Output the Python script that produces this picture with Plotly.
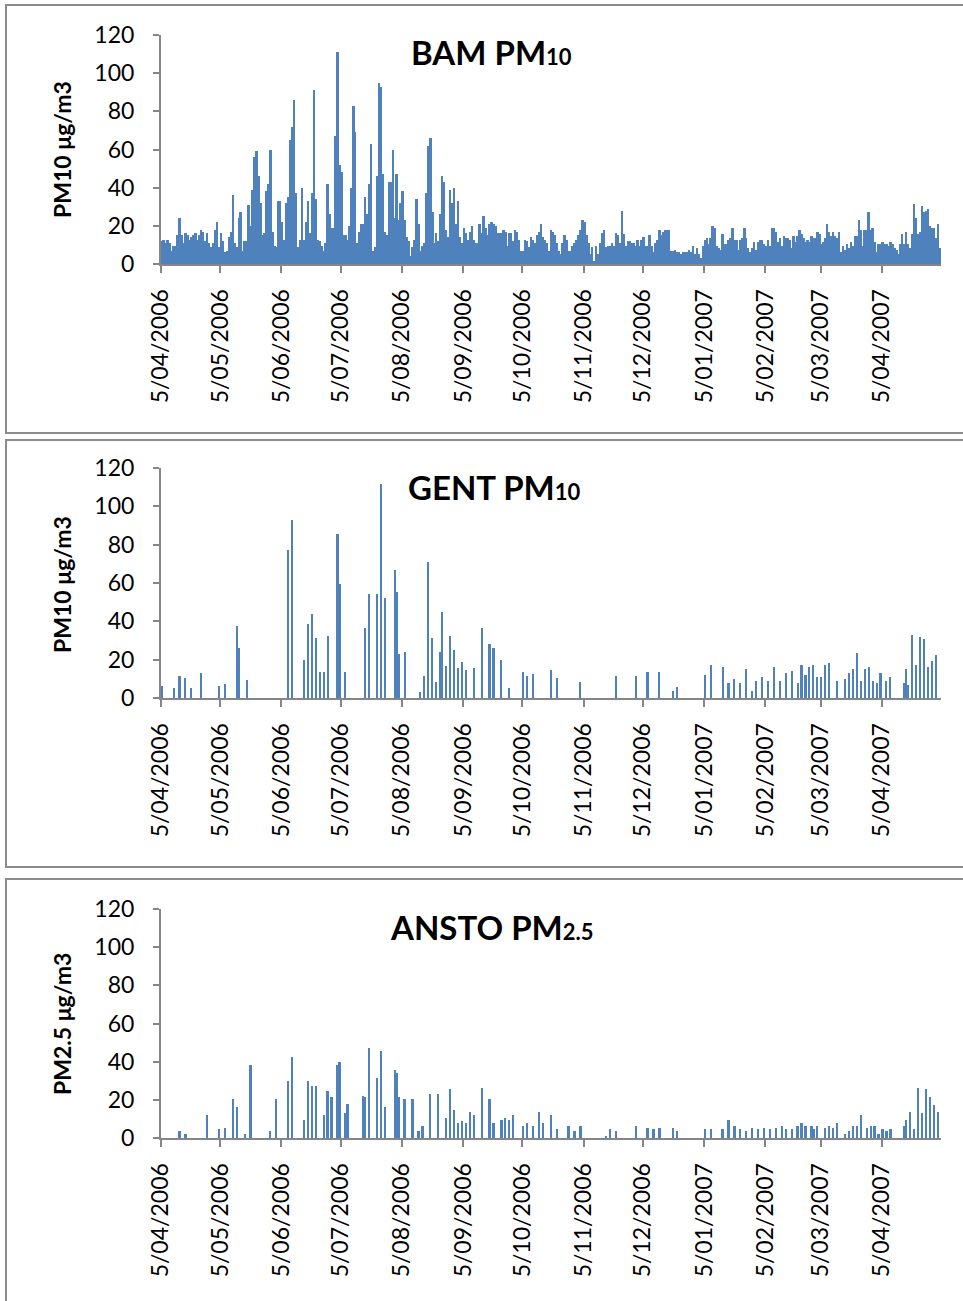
import plotly.graph_objects as go
import pandas as pd

# ---------------- DATA ----------------
tick_dates = ["2006-04-05", "2006-05-05", "2006-06-05", "2006-07-05", "2006-08-05",
              "2006-09-05", "2006-10-05", "2006-11-05", "2006-12-05", "2007-01-05",
              "2007-02-05", "2007-03-05", "2007-04-05"]
tick_labels = ["5/04/2006", "5/05/2006", "5/06/2006", "5/07/2006", "5/08/2006",
               "5/09/2006", "5/10/2006", "5/11/2006", "5/12/2006", "5/01/2007",
               "5/02/2007", "5/03/2007", "5/04/2007"]

# BAM PM10, daily values in three consecutive blocks
bam_start_1 = "2006-04-05"
bam_pm10_1 = [12, 12.6, 11, 12.6, 11, 7, 9.5, 9.5, 15, 24, 15,
              11, 16, 15, 12.6, 14, 15, 16, 12.6, 15, 18,
              17, 12, 16, 11, 9, 11, 18, 22, 9, 16,
              12, 6.5, 7, 14, 17, 36, 11, 9, 24, 27,
              7, 12, 12, 31, 20, 39, 56, 59, 46, 32,
              15, 16, 38, 42, 60, 17, 9.5, 9, 33, 33,
              22, 12.6, 32, 35, 65, 72, 86, 37, 9, 12.6,
              40, 12.6, 22, 33, 16, 37, 91, 34, 12.6, 12,
              9.5, 7, 11, 42, 26, 19, 19, 67, 111, 52,
              48, 15, 15, 12.6, 20, 40, 83, 69, 11, 17, 21,
              21, 35, 26, 42, 63, 7, 9, 46, 95, 93,
              47, 17, 15, 43, 43, 60, 24, 47, 23, 32,
              38, 23, 14, 12, 4, 9, 12.6, 34, 21, 7]
bam_start_2 = "2006-08-15"
bam_pm10_2 = [9.5, 11, 37, 62, 66, 27, 11, 16, 12, 26,
              46, 43, 18, 14, 39, 32, 40, 21, 33, 14,
              11, 19, 16, 12.6, 17, 20, 12.6, 11, 11, 21,
              16, 25, 19, 15, 21, 22, 21, 20, 16, 16,
              16, 18, 17, 9.5, 16, 16, 12, 18, 17, 12.6, 7,
              7, 12.6, 12, 9, 14, 12.6, 11, 15, 17, 21,
              14, 12.6, 11, 7, 18, 17, 15, 11, 7, 5.5,
              11, 15, 12.6, 7, 7, 9.5, 11, 12.6, 15, 18,
              23, 22, 15, 11, 5.5, 9, 1.5, 9.5, 5.5, 11,
              16, 18, 9, 9.5, 9.5, 11, 9.5, 16, 15, 11,
              28, 15.5, 9.5, 12, 12, 11, 11, 9.5, 12.6, 9.5,
              12.6, 14, 9.5, 9.5, 15, 9.5, 6.5, 11, 12.6, 18,
              15, 17, 18, 18, 18]
bam_start_3 = "2006-12-19"
bam_pm10_3 = [6.6, 6.6, 7.3, 6.3, 6.3, 5.2, 6.3, 6.3, 6.3, 7.3,
              6.3, 9.4, 5.2, 8.4, 5.2, 3.1, 9.4, 12.6, 13.8, 10.5,
              13.8, 20, 19, 9.4, 8.4, 7.3, 15.7, 10.5, 10.5, 12.6,
              13.8, 19, 12.6, 12.6, 7.3, 12.6, 13.8, 19, 13.8, 8.4,
              6.3, 8.4, 11.5, 7.3, 11.5, 12.6, 12.6, 10.5, 9.4, 12.6,
              9.4, 19, 19, 16.8, 11.5, 13.8, 9.4, 14.7, 13.8, 13.8,
              12.6, 8.4, 14.7, 11.5, 14.7, 17.8, 15.7, 13.8, 11.5, 12.6,
              11.5, 14.7, 13.8, 13.8, 16.8, 15.7, 10.5, 11.5, 13.8, 21, 16.8,
              14.7, 16.8, 14.7, 13.8, 16.8, 6.3, 9.4, 7.3, 10.5, 8.4,
              11.5, 9.4, 14.7, 14.7, 23, 17.8, 9.4, 17.8, 17.8, 27,
              17.8, 19, 11.5, 6.3, 10.5, 10.5, 11.5, 10.5, 10.5, 9.4,
              11.5, 10.5, 8.4, 7.3, 5.2, 10.5, 15.7, 10.5, 16.8, 10.5,
              8.4, 15.7, 31.6, 24, 15.7, 16.8, 30.5, 27, 28, 29,
              20, 19, 19, 13.8, 21, 8.4]

# GENT PM10 (sampling days)
gent_dates = ["2006-04-05", "2006-04-11", "2006-04-14", "2006-04-17", "2006-04-20", "2006-04-25",
              "2006-05-04", "2006-05-07", "2006-05-13", "2006-05-14", "2006-05-18",
              "2006-06-08", "2006-06-10", "2006-06-16", "2006-06-18", "2006-06-20", "2006-06-22",
              "2006-06-24", "2006-06-26", "2006-06-28", "2006-07-03", "2006-07-04", "2006-07-07",
              "2006-07-17", "2006-07-19", "2006-07-23", "2006-07-25", "2006-07-27",
              "2006-08-01", "2006-08-02", "2006-08-03", "2006-08-06", "2006-08-14", "2006-08-16",
              "2006-08-18", "2006-08-20", "2006-08-22", "2006-08-24", "2006-08-25", "2006-08-27",
              "2006-08-29", "2006-08-31", "2006-09-02", "2006-09-04", "2006-09-06", "2006-09-10",
              "2006-09-14", "2006-09-18", "2006-09-20", "2006-09-24", "2006-09-28",
              "2006-10-05", "2006-10-07", "2006-10-10", "2006-10-19", "2006-10-22",
              "2006-11-03", "2006-11-21", "2006-12-01", "2006-12-07", "2006-12-13",
              "2006-12-20", "2006-12-22", "2007-01-05", "2007-01-08", "2007-01-14", "2007-01-17",
              "2007-01-20", "2007-01-23", "2007-01-26", "2007-01-29", "2007-01-31",
              "2007-02-03", "2007-02-06", "2007-02-09", "2007-02-12", "2007-02-15", "2007-02-18",
              "2007-02-21", "2007-02-23", "2007-02-25", "2007-02-27", "2007-03-01", "2007-03-03",
              "2007-03-05", "2007-03-07", "2007-03-09", "2007-03-13", "2007-03-17", "2007-03-19",
              "2007-03-21", "2007-03-23", "2007-03-25", "2007-03-27", "2007-03-29", "2007-03-31",
              "2007-04-02", "2007-04-04", "2007-04-07", "2007-04-09", "2007-04-16", "2007-04-17",
              "2007-04-18", "2007-04-20", "2007-04-22", "2007-04-24", "2007-04-26", "2007-04-28",
              "2007-04-30", "2007-05-02"]
gent_pm10 = [6.3, 5.4, 11.5, 10.6, 5.4, 12.9,
             6.3, 7.3, 37.6, 26, 9.6,
             77.4, 93, 19.9, 38.8, 44, 31.4,
             13.6, 13.6, 32.4, 85.7, 59.6, 13.6,
             36.6, 54.4, 54.4, 111.8, 52.3,
             66.9, 55.4, 23, 24, 3.1, 11.5,
             71, 31.4, 8.4, 24, 45, 16.7,
             32.4, 25, 15.7, 18.8, 14.6, 15.7,
             36.6, 28.2, 26, 19.9, 5.2,
             13.6, 11.5, 12.5, 14.6, 10.5,
             8.4, 11.5, 11.5, 13.6, 13.4,
             3.8, 5.9, 12.2, 17.4, 16.4, 8,
             10.1, 8, 15.3, 3.8, 9.1,
             11.1, 9.1, 16.4, 9.1, 13.2, 14.3,
             8, 17.4, 12.2, 16.4, 17.4, 11.1,
             11.1, 17.4, 18.5, 9.1, 10.1, 13.2,
             15.3, 23.7, 9.1, 15.3, 16.4, 9.1,
             8, 13.2, 9.1, 11.1, 8, 15.3,
             7, 33.1, 17.4, 32, 31, 16.4,
             19.5, 22.6]

# ANSTO PM2.5 (sampling days)
ansto_dates = ["2006-04-14", "2006-04-17", "2006-04-28", "2006-05-04", "2006-05-07", "2006-05-11",
               "2006-05-13", "2006-05-17", "2006-05-20", "2006-05-30", "2006-06-02", "2006-06-08",
               "2006-06-10", "2006-06-16", "2006-06-18", "2006-06-20", "2006-06-22", "2006-06-26",
               "2006-06-28", "2006-06-30", "2006-07-03", "2006-07-04", "2006-07-07", "2006-07-08",
               "2006-07-16", "2006-07-17", "2006-07-19", "2006-07-23", "2006-07-25", "2006-07-27",
               "2006-08-01", "2006-08-02", "2006-08-03", "2006-08-06", "2006-08-10", "2006-08-13",
               "2006-08-15", "2006-08-19", "2006-08-23", "2006-08-27", "2006-08-29", "2006-08-31",
               "2006-09-02", "2006-09-04", "2006-09-06", "2006-09-08", "2006-09-10", "2006-09-14",
               "2006-09-18", "2006-09-20", "2006-09-24", "2006-09-26", "2006-09-28", "2006-09-30",
               "2006-10-05", "2006-10-07", "2006-10-10", "2006-10-13", "2006-10-15", "2006-10-19",
               "2006-10-22", "2006-10-28", "2006-10-31", "2006-11-03", "2006-11-16", "2006-11-18",
               "2006-11-21", "2006-12-01", "2006-12-07", "2006-12-10", "2006-12-13", "2006-12-20",
               "2006-12-22", "2007-01-05", "2007-01-08", "2007-01-14", "2007-01-17", "2007-01-20",
               "2007-01-23", "2007-01-26", "2007-01-29", "2007-02-01", "2007-02-04", "2007-02-07",
               "2007-02-10", "2007-02-13", "2007-02-15", "2007-02-18", "2007-02-21", "2007-02-23",
               "2007-02-25", "2007-02-28", "2007-03-01", "2007-03-03", "2007-03-07", "2007-03-09",
               "2007-03-11", "2007-03-13", "2007-03-17", "2007-03-19", "2007-03-21", "2007-03-23",
               "2007-03-25", "2007-03-28", "2007-03-30", "2007-04-01", "2007-04-03", "2007-04-05",
               "2007-04-07", "2007-04-09", "2007-04-16", "2007-04-17", "2007-04-19", "2007-04-21",
               "2007-04-23", "2007-04-25", "2007-04-27", "2007-04-29", "2007-05-01", "2007-05-03"]
ansto_pm25 = [3.8, 2.3, 12.2, 4.9, 5.4, 20.6,
              16.4, 2.3, 38.4, 3.8, 20.6, 30,
              42.6, 9.6, 30, 27.4, 27.4, 12.2,
              24.8, 21.6, 38.4, 40, 13.3, 18,
              22.2, 21.6, 47.3, 31.6, 45.7, 16.4,
              35.8, 34.2, 21.6, 20.6, 20.6, 3.8,
              6.5, 23.2, 23.2, 10.6, 25.8, 14.8,
              8, 9.1, 8, 13.8, 12.2, 26.4,
              20.6, 8, 9.6, 10.6, 9.6, 12.2,
              6.5, 8, 6.5, 13.8, 8, 12.2,
              4.9, 6.5, 3.8, 6.5, 1.2, 4.9,
              3.8, 6.5, 5.4, 4.9, 5.4, 5.4,
              3.8, 4.9, 4.9, 4.9, 9.6, 6.5,
              4.9, 3.8, 5.4, 4.9, 5.4, 4.9,
              5.4, 6.5, 4.9, 4.9, 6.5, 8,
              6.5, 6.5, 4.9, 6.5, 5.4, 6.5,
              5.4, 8, 2.3, 3.8, 6.5, 6.5,
              12.2, 5.4, 6.5, 6.5, 2.3, 4.9,
              3.8, 4.9, 6.5, 9.6, 13.8, 4.9,
              26.4, 13.3, 25.8, 21.6, 17.5, 13.8]

# ---------------- FIGURE ----------------
W, H = 963, 1301
DAY_MS = 86400000
BLUE = "#4F81BD"
AXIS_GREY = "#868686"
FONT = "Lato"


def daily(start, vals):
    return list(pd.date_range(start, periods=len(vals), freq="D") + pd.Timedelta(hours=12))


def centred(dates):
    return list(pd.to_datetime(dates) + pd.Timedelta(hours=12))


bam_x = daily(bam_start_1, bam_pm10_1) + daily(bam_start_2, bam_pm10_2) + daily(bam_start_3, bam_pm10_3)
bam_y = bam_pm10_1 + bam_pm10_2 + bam_pm10_3

fig = go.Figure()
fig.add_trace(go.Bar(x=bam_x, y=bam_y, width=DAY_MS * 1.0, marker=dict(color=BLUE, line=dict(width=0)),
                     xaxis="x", yaxis="y"))
fig.add_trace(go.Bar(x=centred(gent_dates), y=gent_pm10, width=DAY_MS * 0.8,
                     marker=dict(color=BLUE, line=dict(width=0)), xaxis="x2", yaxis="y2"))
fig.add_trace(go.Bar(x=centred(ansto_dates), y=ansto_pm25, width=DAY_MS * 0.9,
                     marker=dict(color=BLUE, line=dict(width=0)), xaxis="x3", yaxis="y3"))


def ydom(top_px, bottom_px):
    return [1 - bottom_px / H, 1 - top_px / H]


xdom = [161 / W, 941 / W]
panels = [(35, 264), (468, 698), (909, 1138)]

xcommon = dict(type="date", range=["2006-04-05", "2007-05-05"], domain=xdom, automargin=False,
               tickmode="array", tickvals=tick_dates, ticktext=tick_labels,
               tickangle=-90, ticks="outside", ticklen=7, tickwidth=2, tickcolor=AXIS_GREY,
               showline=True, linecolor=AXIS_GREY, linewidth=2, showgrid=False, zeroline=False,
               tickfont=dict(family=FONT, size=23, color="black"), ticklabelstandoff=7,
               fixedrange=True)
ycommon = dict(range=[0, 120], dtick=20, tick0=0, ticks="outside", ticklen=6, tickwidth=2,
               tickcolor=AXIS_GREY, showline=True, linecolor=AXIS_GREY, linewidth=2,
               showgrid=False, zeroline=False, automargin=False,
               tickfont=dict(family=FONT, size=23, color="black"), ticklabelstandoff=14)

layout = dict(width=W, height=H, margin=dict(l=0, r=0, t=0, b=0, autoexpand=False), showlegend=False,
              paper_bgcolor="white", plot_bgcolor="white", bargap=0)
for i, (t, b) in enumerate(panels):
    sfx = "" if i == 0 else str(i + 1)
    layout["xaxis" + sfx] = dict(xcommon, anchor="y" + sfx)
    layout["yaxis" + sfx] = dict(ycommon, domain=ydom(t, b), anchor="x" + sfx)
fig.update_layout(**layout)

# chart area boxes
boxes = [(6, 5, 433), (6, 440, 867), (6, 879, 1320)]
for x0, t, b in boxes:
    fig.add_shape(type="rect", xref="paper", yref="paper", x0=x0 / W, x1=1.03,
                  y0=1 - b / H, y1=1 - t / H, line=dict(color="#8c8c8c", width=2),
                  fillcolor="rgba(0,0,0,0)", layer="below")

titles = [("BAM PM<span style='font-size:22px'>10</span>", 492, 52),
          ("GENT PM<span style='font-size:22px'>10</span>", 494, 487),
          ("ANSTO PM<span style='font-size:22px'>2.5</span>", 492, 927)]
for txt, xp, yp in titles:
    fig.add_annotation(text="<b>" + txt + "</b>", xref="paper", yref="paper", x=xp / W, y=1 - yp / H,
                       showarrow=False, xanchor="center", yanchor="middle",
                       font=dict(family=FONT, size=33, color="black"))

ytitles = [("PM10 μg/m3", 150), ("PM10 μg/m3", 585), ("PM2.5 μg/m3", 1024)]
for txt, yp in ytitles:
    fig.add_annotation(text="<b>" + txt + "</b>", xref="paper", yref="paper", x=62 / W, y=1 - yp / H,
                       showarrow=False, textangle=-90, xanchor="center", yanchor="middle",
                       font=dict(family=FONT, size=23, color="black"))

fig.write_html("out.html")
